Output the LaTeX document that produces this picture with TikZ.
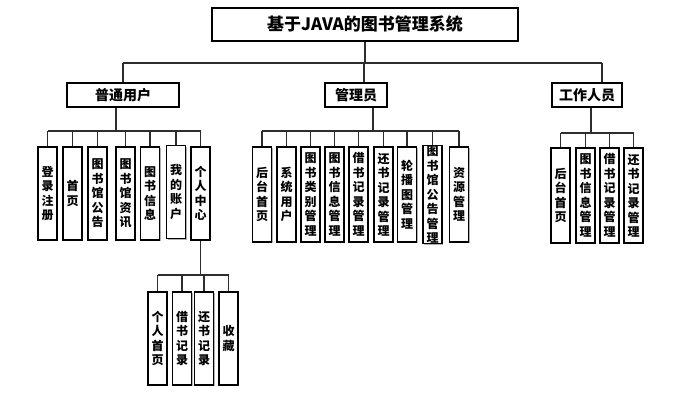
\documentclass[tikz,border=0pt]{standalone}
\usepackage{fontspec}
\setmainfont{Noto Sans CJK SC}
\usetikzlibrary{shadows}
\begin{document}
\begin{tikzpicture}[x=1pt,y=-1pt,
  box/.style={draw=black, line width=1.2pt, fill=white, inner sep=0pt,
    drop shadow={shadow xshift=1.2pt, shadow yshift=-1.2pt, fill=gray!60, opacity=1}},
  leaf/.style={box, minimum width=19pt, align=center, font=\bfseries\fontsize{12}{14.5}\selectfont},
  grp/.style={box, minimum height=24pt, font=\bfseries\fontsize{14}{16}\selectfont},
  conn/.style={draw=gray!35!black, line width=1.2pt}]
\useasboundingbox (0,0) rectangle (687,410);
\fill[white] (0,0) rectangle (687,410);
% title
\node[box, minimum width=306pt, minimum height=33pt, font=\bfseries\fontsize{17}{20}\selectfont] (title) at (365,24.5) {基于JAVA的图书管理系统};
% groups
\node[grp, minimum width=112pt] (g1) at (123,95) {普通用户};
\node[grp, minimum width=62pt] (g2) at (356,95) {管理员};
\node[grp, minimum width=70pt] (g3) at (587,95) {工作人员};
% group 1 leaves
\begin{scope}[every node/.style={leaf, minimum height=93pt}]
\node (c11) at (47.5,193.5) {登\\录\\注\\册};
\node (c12) at (72.5,193.5) {首\\页};
\node (c13) at (97.5,193.5) {图\\书\\馆\\公\\告};
\node (c14) at (125.5,193.5) {图\\书\\馆\\资\\讯};
\node (c15) at (150,193.5) {图\\书\\信\\息};
\node (c16) at (176,192) {我\\的\\账\\户};
\node (c17) at (200.5,193.5) {个\\人\\中\\心};
\end{scope}
% group 2 leaves
\begin{scope}[every node/.style={leaf, minimum height=95pt}]
\node (c21) at (262,194.5) {后\\台\\首\\页};
\node (c22) at (286.5,194.5) {系\\统\\用\\户};
\node (c23) at (310.5,194.5) {图\\书\\类\\别\\管\\理};
\node (c24) at (334.5,194.5) {图\\书\\信\\息\\管\\理};
\node (c25) at (358.5,194.5) {借\\书\\记\\录\\管\\理};
\node (c26) at (383.5,194.5) {还\\书\\记\\录\\管\\理};
\node (c27) at (407,194.5) {轮\\播\\图\\管\\理};
\node (c28) at (432.5,194.5) {图\\书\\馆\\公\\告\\管\\理};
\node (c29) at (459,194.5) {资\\源\\管\\理};
\end{scope}
% group 3 leaves
\begin{scope}[every node/.style={leaf, minimum height=95pt}]
\node (c31) at (560.5,195.5) {后\\台\\首\\页};
\node (c32) at (585.5,195.5) {图\\书\\信\\息\\管\\理};
\node (c33) at (609.5,195.5) {借\\书\\记\\录\\管\\理};
\node (c34) at (633.5,195.5) {还\\书\\记\\录\\管\\理};
\end{scope}
% sub leaves
\begin{scope}[every node/.style={leaf, minimum height=93pt}]
\node (s1) at (157.5,338.5) {个\\人\\首\\页};
\node (s2) at (182,338.5) {借\\书\\记\\录};
\node (s3) at (204,338.5) {还\\书\\记\\录};
\node (s4) at (228.5,338.5) {收\\藏};
\end{scope}
% connectors
\coordinate (tl) at (123,63);
\coordinate (tr) at (602,63);
\coordinate (a2) at (364,63);
\coordinate (b1) at (116,131);
\coordinate (b2) at (373,131);
\coordinate (b3) at (591,133);
\coordinate (bs) at (200.5,275);
\begin{scope}[on background layer/.style={}]
\draw[conn] (title.south) -- (title.south |- tl);
\draw[conn] (tl) -- (tr);
\draw[conn] (tl) -- (g1.north);
\draw[conn] (a2) -- (a2 |- g2.north);
\draw[conn] (tr) -- (tr |- g3.north);
\draw[conn] (b1 |- g1.south) -- (b1);
\draw[conn] (c11.north |- b1) -- (c17.north |- b1);
\foreach \i in {1,...,7} {\draw[conn] (c1\i.north) -- (c1\i.north |- b1);}
\draw[conn] (b2 |- g2.south) -- (b2);
\draw[conn] (c21.north |- b2) -- (c29.north |- b2);
\foreach \i in {1,...,9} {\draw[conn] (c2\i.north) -- (c2\i.north |- b2);}
\draw[conn] (b3 |- g3.south) -- (b3);
\draw[conn] (c31.north |- b3) -- (c34.north |- b3);
\foreach \i in {1,...,4} {\draw[conn] (c3\i.north) -- (c3\i.north |- b3);}
\draw[conn] (c17.south) -- (bs);
\draw[conn] (s1.north |- bs) -- (s4.north |- bs);
\foreach \i in {1,...,4} {\draw[conn] (s\i.north) -- (s\i.north |- bs);}
\end{scope}
\end{tikzpicture}
\end{document}
